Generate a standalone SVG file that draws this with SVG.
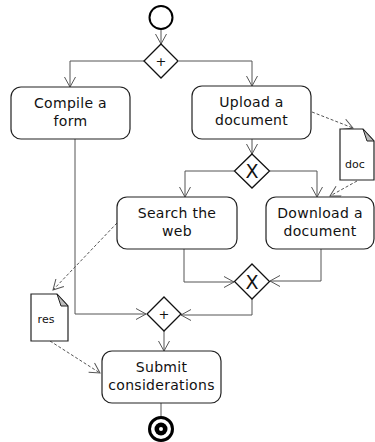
<svg xmlns="http://www.w3.org/2000/svg" width="375" height="442" viewBox="0 0 375 442">
<defs>
<style>
.box{fill:#fff;stroke:#222;stroke-width:1.2}
.dia{fill:#fff;stroke:#111;stroke-width:1.3}
.edge{fill:none;stroke:#555;stroke-width:1}
.dash{fill:none;stroke:#555;stroke-width:1;stroke-dasharray:3,2}
.t{font-family:"DejaVu Sans",Verdana,sans-serif;font-size:14px;letter-spacing:0.3px;fill:#111;text-anchor:middle}
.p{font-family:"DejaVu Sans",Verdana,sans-serif;font-size:13px;fill:#111;text-anchor:middle}
.s{font-family:"DejaVu Sans",Verdana,sans-serif;font-size:11px;fill:#111;text-anchor:middle}
.doc{fill:#fff;stroke:#222;stroke-width:1.2}
.fold{fill:#bbb;stroke:#222;stroke-width:1}
</style>
<marker id="a" markerWidth="12" markerHeight="12" refX="11" refY="6" orient="auto" markerUnits="userSpaceOnUse">
<path d="M1,0.5 L11,6 L1,11.5" fill="none" stroke="#555" stroke-width="1"/>
</marker>
</defs>
<g id="connectors">
<path class="edge" d="M161,30 V44" marker-end="url(#a)"/>
<path class="edge" d="M144,61 H70 V87" marker-end="url(#a)"/>
<path class="edge" d="M179,61 H252 V86" marker-end="url(#a)"/>
<path class="edge" d="M252,139 V154" marker-end="url(#a)"/>
<path class="edge" d="M234,171 H185 V197" marker-end="url(#a)"/>
<path class="edge" d="M270,171 H317 V197" marker-end="url(#a)"/>
<path class="edge" d="M184,249 V282 H234" marker-end="url(#a)"/>
<path class="edge" d="M321,249 V281 H270" marker-end="url(#a)"/>
<path class="edge" d="M252,299 V315 H181" marker-end="url(#a)"/>
<path class="edge" d="M75,139 V314 H146" marker-end="url(#a)"/>
<path class="edge" d="M164,331 V351" marker-end="url(#a)"/>
<path class="edge" d="M161,403 V416"/>
<path class="dash" d="M312,112 L353,128" marker-end="url(#a)"/>
<path class="dash" d="M357,181 L330,196" marker-end="url(#a)"/>
<path class="dash" d="M117,223 L53,290" marker-end="url(#a)"/>
<path class="dash" d="M50,341 L100,373" marker-end="url(#a)"/>
</g>
<g id="start"><circle cx="161" cy="17.5" r="11.5" fill="#fff" stroke="#000" stroke-width="2"/></g>
<g id="fork"><path class="dia" d="M161,44 L178,61 L161,78 L144,61 Z"/><text class="p" x="161" y="66">+</text></g>
<g id="compile"><rect class="box" x="11" y="87" width="119" height="52" rx="10"/><text class="t" x="70.5" y="108">Compile a</text><text class="t" x="70.5" y="126">form</text></g>
<g id="upload"><rect class="box" x="192" y="86" width="119" height="53" rx="10"/><text class="t" x="251.5" y="107">Upload a</text><text class="t" x="251.5" y="125">document</text></g>
<g id="doc"><path class="doc" d="M340,129 H363 L374,141 V180 H340 Z"/><path class="fold" d="M363,129 L367,141 L374,141 Z"/><text class="s" x="355" y="168">doc</text></g>
<g id="decision"><path class="dia" d="M252,154 L269.5,171 L252,188 L234.5,171 Z"/><text class="p" x="252" y="178" style="font-size:19px">X</text></g>
<g id="search"><rect class="box" x="117" y="197" width="120" height="52" rx="10"/><text class="t" x="177" y="218">Search the</text><text class="t" x="177" y="236">web</text></g>
<g id="download"><rect class="box" x="266" y="197" width="108" height="52" rx="10"/><text class="t" x="320" y="218">Download a</text><text class="t" x="320" y="236">document</text></g>
<g id="merge"><path class="dia" d="M252,264 L269.5,281.5 L252,299 L234.5,281.5 Z"/><text class="p" x="252" y="288.5" style="font-size:19px">X</text></g>
<g id="res"><path class="doc" d="M31,294 H57 L68,306 V341 H31 Z"/><path class="fold" d="M57,294 L61,306 L68,306 Z"/><text class="s" x="46" y="323">res</text></g>
<g id="join"><path class="dia" d="M164,297 L181,314 L164,331 L147,314 Z"/><text class="p" x="164" y="319">+</text></g>
<g id="submit"><rect class="box" x="102" y="351" width="119" height="52" rx="10"/><text class="t" x="161.5" y="372">Submit</text><text class="t" x="161.5" y="390">considerations</text></g>
<g id="end"><circle cx="161" cy="429" r="11.5" fill="#fff" stroke="#000" stroke-width="3"/><circle cx="161" cy="429" r="6.5" fill="#000"/><circle cx="161" cy="429" r="2" fill="#fff"/></g>
</svg>
